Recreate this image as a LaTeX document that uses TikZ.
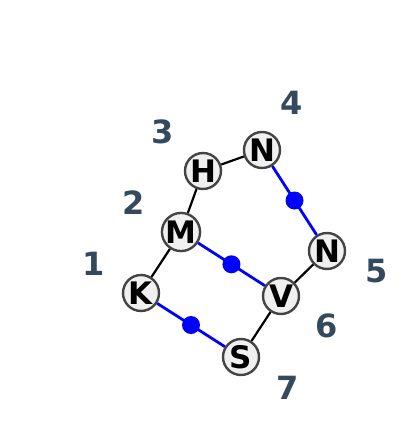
\documentclass[tikz,border=0pt]{standalone}
\usepackage{fontspec}
\setmainfont{DejaVu Sans}
\definecolor{slate}{HTML}{34495E}
\definecolor{atomfill}{HTML}{F0F0F0}
\definecolor{atomline}{HTML}{444444}
\tikzset{
  atom/.style={circle, draw=atomline, fill=atomfill, line width=2.4pt, minimum size=36pt, inner sep=0pt, font=\fontsize{31}{31}\selectfont\bfseries},
  bond/.style={line width=2.2pt, black},
  bondb/.style={line width=2.8pt, blue},
  mid/.style={circle, fill=blue, minimum size=18pt, inner sep=0pt},
  poslabel/.style={text=slate, font=\fontsize{32}{32}\selectfont\bfseries}
}
\begin{document}
\begin{tikzpicture}[x=1pt, y=-1pt]
			%%%%% START %%%%%
			
			\useasboundingbox (0, 0) rectangle (400, 440);
			
			\node[atom] (K) at (141, 293) {K};
			\node[atom] (M) at (181, 232) {M};
			\node[atom] (H) at (203, 171) {H};
			\node[atom] (N4) at (262, 150) {N};
			\node[atom] (N5) at (327, 251) {N};
			\node[atom] (V) at (281, 296) {V};
			\node[atom] (S) at (241, 357) {S};
			
			\draw[bond] (K) -- (M);
			\draw[bond] (M) -- (H);
			\draw[bond] (H) -- (N4);
			\draw[bond] (N5) -- (V);
			\draw[bond] (V) -- (S);
			\draw[bondb] (N4) -- node[mid] {} (N5);
			\draw[bondb] (M) -- node[mid] {} (V);
			\draw[bondb] (K) -- node[mid] {} (S);
			
			\node[poslabel] (p1) at (94, 264) {1};
			\node[poslabel] (p2) at (134, 203) {2};
			\node[poslabel] (p3) at (163, 132) {3};
			\node[poslabel] (p4) at (292, 103) {4};
			\node[poslabel] (p5) at (377, 271) {5};
			\node[poslabel] (p6) at (327, 326) {6};
			\node[poslabel] (p7) at (288, 388) {7};
			
			%%%%% END %%%%%
\end{tikzpicture}
\end{document}
